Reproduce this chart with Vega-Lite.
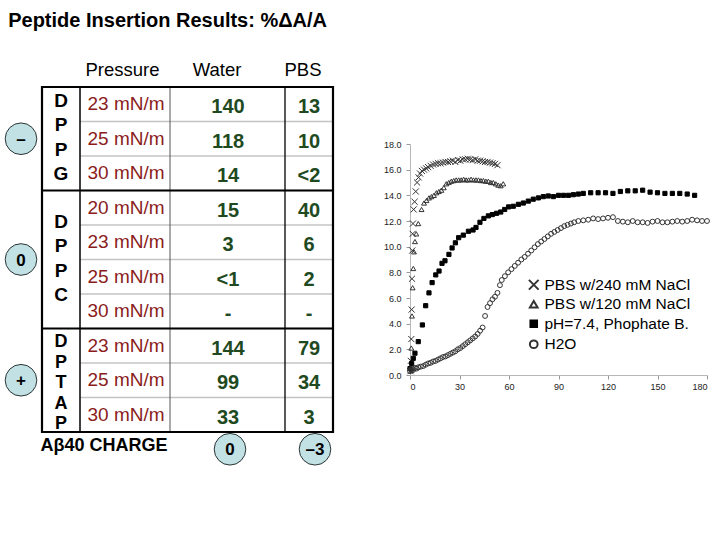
{
  "$schema": "https://vega.github.io/schema/vega-lite/v6.json",
  "background": "white",
  "padding": {"left": 3, "top": 10, "right": 0, "bottom": 0},
  "title": {"text": "Peptide Insertion Results: %ΔA/A", "anchor": "start", "font": "Liberation Sans", "fontSize": 20, "fontWeight": "bold", "color": "#000", "dx": 5, "offset": 30},
  "config": {"font": "Liberation Sans"},
  "bounds": "flush",
  "center": true,
  "spacing": 77,
  "datasets": {
    "rows": [
      {"row": "1", "group": "DPPG", "pressure": "23 mN/m", "water": "140", "pbs": "13"},
      {"row": "2", "group": "DPPG", "pressure": "25 mN/m", "water": "118", "pbs": "10"},
      {"row": "3", "group": "DPPG", "pressure": "30 mN/m", "water": "14", "pbs": "<2"},
      {"row": "4", "group": "DPPC", "pressure": "20 mN/m", "water": "15", "pbs": "40"},
      {"row": "5", "group": "DPPC", "pressure": "23 mN/m", "water": "3", "pbs": "6"},
      {"row": "6", "group": "DPPC", "pressure": "25 mN/m", "water": "<1", "pbs": "2"},
      {"row": "7", "group": "DPPC", "pressure": "30 mN/m", "water": "-", "pbs": "-"},
      {"row": "8", "group": "DPTAP", "pressure": "23 mN/m", "water": "144", "pbs": "79"},
      {"row": "9", "group": "DPTAP", "pressure": "25 mN/m", "water": "99", "pbs": "34"},
      {"row": "10", "group": "DPTAP", "pressure": "30 mN/m", "water": "33", "pbs": "3"}
    ],
    "groups": [
      {"group": "DPPG", "letters": "D\nP\nP\nG", "charge": "–", "first": "1"},
      {"group": "DPPC", "letters": "D\nP\nP\nC", "charge": "0", "first": "4"},
      {"group": "DPTAP", "letters": "D\nP\nT\nA\nP", "charge": "+", "first": "8"}
    ],
    "headers": [{"pressure": "Pressure", "water": "Water", "pbs": "PBS"}],
    "charge": [{"label": "Aβ40 CHARGE", "water": "0", "pbs": "–3"}],
    "curves": [
      {"series": "PBS w/240 mM NaCl", "t": 0.3, "pct": 0.3},
      {"series": "PBS w/240 mM NaCl", "t": 0.5, "pct": 1.1},
      {"series": "PBS w/240 mM NaCl", "t": 0.8, "pct": 2.8},
      {"series": "PBS w/240 mM NaCl", "t": 1.0, "pct": 5.1},
      {"series": "PBS w/240 mM NaCl", "t": 1.2, "pct": 7.5},
      {"series": "PBS w/240 mM NaCl", "t": 1.4, "pct": 9.7},
      {"series": "PBS w/240 mM NaCl", "t": 1.6, "pct": 11.0},
      {"series": "PBS w/240 mM NaCl", "t": 1.8, "pct": 11.8},
      {"series": "PBS w/240 mM NaCl", "t": 2.2, "pct": 12.9},
      {"series": "PBS w/240 mM NaCl", "t": 2.8, "pct": 13.5},
      {"series": "PBS w/240 mM NaCl", "t": 3.5, "pct": 14.3},
      {"series": "PBS w/240 mM NaCl", "t": 4.3, "pct": 15.0},
      {"series": "PBS w/240 mM NaCl", "t": 5.2, "pct": 15.4},
      {"series": "PBS w/240 mM NaCl", "t": 6.1, "pct": 15.7},
      {"series": "PBS w/240 mM NaCl", "t": 7.2, "pct": 15.9},
      {"series": "PBS w/240 mM NaCl", "t": 8.5, "pct": 16.0},
      {"series": "PBS w/240 mM NaCl", "t": 9.8, "pct": 16.1},
      {"series": "PBS w/240 mM NaCl", "t": 11, "pct": 16.2},
      {"series": "PBS w/240 mM NaCl", "t": 12.5, "pct": 16.3},
      {"series": "PBS w/240 mM NaCl", "t": 14, "pct": 16.4},
      {"series": "PBS w/240 mM NaCl", "t": 15.5, "pct": 16.45},
      {"series": "PBS w/240 mM NaCl", "t": 17, "pct": 16.5},
      {"series": "PBS w/240 mM NaCl", "t": 18.5, "pct": 16.5},
      {"series": "PBS w/240 mM NaCl", "t": 20, "pct": 16.55},
      {"series": "PBS w/240 mM NaCl", "t": 21.5, "pct": 16.6},
      {"series": "PBS w/240 mM NaCl", "t": 23, "pct": 16.6},
      {"series": "PBS w/240 mM NaCl", "t": 24.5, "pct": 16.65},
      {"series": "PBS w/240 mM NaCl", "t": 26, "pct": 16.7},
      {"series": "PBS w/240 mM NaCl", "t": 27.5, "pct": 16.6},
      {"series": "PBS w/240 mM NaCl", "t": 29, "pct": 16.75},
      {"series": "PBS w/240 mM NaCl", "t": 30.5, "pct": 16.7},
      {"series": "PBS w/240 mM NaCl", "t": 32, "pct": 16.8},
      {"series": "PBS w/240 mM NaCl", "t": 33.5, "pct": 16.8},
      {"series": "PBS w/240 mM NaCl", "t": 35, "pct": 16.85},
      {"series": "PBS w/240 mM NaCl", "t": 36.5, "pct": 16.8},
      {"series": "PBS w/240 mM NaCl", "t": 38, "pct": 16.75},
      {"series": "PBS w/240 mM NaCl", "t": 39.5, "pct": 16.8},
      {"series": "PBS w/240 mM NaCl", "t": 41, "pct": 16.7},
      {"series": "PBS w/240 mM NaCl", "t": 42.5, "pct": 16.7},
      {"series": "PBS w/240 mM NaCl", "t": 44, "pct": 16.65},
      {"series": "PBS w/240 mM NaCl", "t": 45.5, "pct": 16.6},
      {"series": "PBS w/240 mM NaCl", "t": 47, "pct": 16.6},
      {"series": "PBS w/240 mM NaCl", "t": 48.5, "pct": 16.55},
      {"series": "PBS w/240 mM NaCl", "t": 50, "pct": 16.5},
      {"series": "PBS w/240 mM NaCl", "t": 51.5, "pct": 16.45},
      {"series": "PBS w/240 mM NaCl", "t": 53, "pct": 16.35},
      {"series": "PBS w/120 mM NaCl", "t": 0.8, "pct": 2.1},
      {"series": "PBS w/120 mM NaCl", "t": 1.2, "pct": 4.6},
      {"series": "PBS w/120 mM NaCl", "t": 1.6, "pct": 6.8},
      {"series": "PBS w/120 mM NaCl", "t": 2.0, "pct": 8.3},
      {"series": "PBS w/120 mM NaCl", "t": 2.4, "pct": 9.6},
      {"series": "PBS w/120 mM NaCl", "t": 3.0, "pct": 10.4},
      {"series": "PBS w/120 mM NaCl", "t": 3.8, "pct": 11.0},
      {"series": "PBS w/120 mM NaCl", "t": 5, "pct": 11.8},
      {"series": "PBS w/120 mM NaCl", "t": 7, "pct": 12.9},
      {"series": "PBS w/120 mM NaCl", "t": 8.5, "pct": 13.4},
      {"series": "PBS w/120 mM NaCl", "t": 10, "pct": 13.6},
      {"series": "PBS w/120 mM NaCl", "t": 11.5, "pct": 13.8},
      {"series": "PBS w/120 mM NaCl", "t": 13, "pct": 13.9},
      {"series": "PBS w/120 mM NaCl", "t": 14.5, "pct": 14.0},
      {"series": "PBS w/120 mM NaCl", "t": 16, "pct": 14.2},
      {"series": "PBS w/120 mM NaCl", "t": 17.5, "pct": 14.3},
      {"series": "PBS w/120 mM NaCl", "t": 19, "pct": 14.4},
      {"series": "PBS w/120 mM NaCl", "t": 20.5, "pct": 14.6},
      {"series": "PBS w/120 mM NaCl", "t": 22, "pct": 14.9},
      {"series": "PBS w/120 mM NaCl", "t": 23.5, "pct": 15.0},
      {"series": "PBS w/120 mM NaCl", "t": 25, "pct": 15.1},
      {"series": "PBS w/120 mM NaCl", "t": 26.5, "pct": 15.15},
      {"series": "PBS w/120 mM NaCl", "t": 28, "pct": 15.2},
      {"series": "PBS w/120 mM NaCl", "t": 29.5, "pct": 15.2},
      {"series": "PBS w/120 mM NaCl", "t": 31, "pct": 15.2},
      {"series": "PBS w/120 mM NaCl", "t": 32.5, "pct": 15.25},
      {"series": "PBS w/120 mM NaCl", "t": 34, "pct": 15.2},
      {"series": "PBS w/120 mM NaCl", "t": 35.5, "pct": 15.2},
      {"series": "PBS w/120 mM NaCl", "t": 37, "pct": 15.25},
      {"series": "PBS w/120 mM NaCl", "t": 38.5, "pct": 15.2},
      {"series": "PBS w/120 mM NaCl", "t": 40, "pct": 15.2},
      {"series": "PBS w/120 mM NaCl", "t": 41.5, "pct": 15.2},
      {"series": "PBS w/120 mM NaCl", "t": 43, "pct": 15.15},
      {"series": "PBS w/120 mM NaCl", "t": 44.5, "pct": 15.15},
      {"series": "PBS w/120 mM NaCl", "t": 46, "pct": 15.1},
      {"series": "PBS w/120 mM NaCl", "t": 47.5, "pct": 15.1},
      {"series": "PBS w/120 mM NaCl", "t": 49, "pct": 15.0},
      {"series": "PBS w/120 mM NaCl", "t": 50.5, "pct": 15.0},
      {"series": "PBS w/120 mM NaCl", "t": 52, "pct": 14.9},
      {"series": "PBS w/120 mM NaCl", "t": 53.5, "pct": 14.8},
      {"series": "PBS w/120 mM NaCl", "t": 55, "pct": 14.75},
      {"series": "PBS w/120 mM NaCl", "t": 56.5, "pct": 14.9},
      {"series": " pH=7.4, Phophate B.", "t": 0, "pct": 0.5},
      {"series": " pH=7.4, Phophate B.", "t": 1, "pct": 0.9},
      {"series": " pH=7.4, Phophate B.", "t": 2, "pct": 1.3},
      {"series": " pH=7.4, Phophate B.", "t": 3, "pct": 1.7},
      {"series": " pH=7.4, Phophate B.", "t": 5, "pct": 2.6},
      {"series": " pH=7.4, Phophate B.", "t": 7.5, "pct": 3.9},
      {"series": " pH=7.4, Phophate B.", "t": 9.5, "pct": 5.4},
      {"series": " pH=7.4, Phophate B.", "t": 11.5, "pct": 6.4},
      {"series": " pH=7.4, Phophate B.", "t": 13.4, "pct": 7.2},
      {"series": " pH=7.4, Phophate B.", "t": 15.6, "pct": 7.8},
      {"series": " pH=7.4, Phophate B.", "t": 17.6, "pct": 8.1},
      {"series": " pH=7.4, Phophate B.", "t": 19.4, "pct": 8.7},
      {"series": " pH=7.4, Phophate B.", "t": 21.2, "pct": 8.9},
      {"series": " pH=7.4, Phophate B.", "t": 23.6, "pct": 9.4},
      {"series": " pH=7.4, Phophate B.", "t": 25.5, "pct": 9.9},
      {"series": " pH=7.4, Phophate B.", "t": 27.5, "pct": 10.3},
      {"series": " pH=7.4, Phophate B.", "t": 29.5, "pct": 10.7},
      {"series": " pH=7.4, Phophate B.", "t": 32.3, "pct": 10.9},
      {"series": " pH=7.4, Phophate B.", "t": 35.4, "pct": 11.2},
      {"series": " pH=7.4, Phophate B.", "t": 38.2, "pct": 11.3},
      {"series": " pH=7.4, Phophate B.", "t": 40, "pct": 11.5},
      {"series": " pH=7.4, Phophate B.", "t": 42.4, "pct": 11.9},
      {"series": " pH=7.4, Phophate B.", "t": 44.8, "pct": 12.2},
      {"series": " pH=7.4, Phophate B.", "t": 47.5, "pct": 12.4},
      {"series": " pH=7.4, Phophate B.", "t": 49.9, "pct": 12.5},
      {"series": " pH=7.4, Phophate B.", "t": 52.5, "pct": 12.6},
      {"series": " pH=7.4, Phophate B.", "t": 55, "pct": 12.7},
      {"series": " pH=7.4, Phophate B.", "t": 57.4, "pct": 12.9},
      {"series": " pH=7.4, Phophate B.", "t": 59.8, "pct": 13.1},
      {"series": " pH=7.4, Phophate B.", "t": 62.6, "pct": 13.15},
      {"series": " pH=7.4, Phophate B.", "t": 65.7, "pct": 13.3},
      {"series": " pH=7.4, Phophate B.", "t": 68.7, "pct": 13.4},
      {"series": " pH=7.4, Phophate B.", "t": 71.7, "pct": 13.55},
      {"series": " pH=7.4, Phophate B.", "t": 74.7, "pct": 13.7},
      {"series": " pH=7.4, Phophate B.", "t": 77.8, "pct": 13.8},
      {"series": " pH=7.4, Phophate B.", "t": 80.8, "pct": 13.9},
      {"series": " pH=7.4, Phophate B.", "t": 83.8, "pct": 13.95},
      {"series": " pH=7.4, Phophate B.", "t": 86.9, "pct": 13.9},
      {"series": " pH=7.4, Phophate B.", "t": 90, "pct": 14.0},
      {"series": " pH=7.4, Phophate B.", "t": 93, "pct": 14.0},
      {"series": " pH=7.4, Phophate B.", "t": 96, "pct": 14.0},
      {"series": " pH=7.4, Phophate B.", "t": 99, "pct": 14.05},
      {"series": " pH=7.4, Phophate B.", "t": 102, "pct": 14.1},
      {"series": " pH=7.4, Phophate B.", "t": 105, "pct": 14.15},
      {"series": " pH=7.4, Phophate B.", "t": 109.5, "pct": 14.2},
      {"series": " pH=7.4, Phophate B.", "t": 114, "pct": 14.2},
      {"series": " pH=7.4, Phophate B.", "t": 118.5, "pct": 14.2},
      {"series": " pH=7.4, Phophate B.", "t": 123, "pct": 14.15},
      {"series": " pH=7.4, Phophate B.", "t": 127.5, "pct": 14.3},
      {"series": " pH=7.4, Phophate B.", "t": 132, "pct": 14.35},
      {"series": " pH=7.4, Phophate B.", "t": 136.5, "pct": 14.35},
      {"series": " pH=7.4, Phophate B.", "t": 141, "pct": 14.4},
      {"series": " pH=7.4, Phophate B.", "t": 145.5, "pct": 14.25},
      {"series": " pH=7.4, Phophate B.", "t": 150, "pct": 14.2},
      {"series": " pH=7.4, Phophate B.", "t": 154.5, "pct": 14.15},
      {"series": " pH=7.4, Phophate B.", "t": 159, "pct": 14.15},
      {"series": " pH=7.4, Phophate B.", "t": 163.5, "pct": 14.15},
      {"series": " pH=7.4, Phophate B.", "t": 168, "pct": 14.1},
      {"series": " pH=7.4, Phophate B.", "t": 172.5, "pct": 14.0},
      {"series": "H2O", "t": 0, "pct": 0.3},
      {"series": "H2O", "t": 0.5, "pct": 0.45},
      {"series": "H2O", "t": 1, "pct": 0.35},
      {"series": "H2O", "t": 1.5, "pct": 0.5},
      {"series": "H2O", "t": 2, "pct": 0.4},
      {"series": "H2O", "t": 3, "pct": 0.55},
      {"series": "H2O", "t": 4, "pct": 0.5},
      {"series": "H2O", "t": 5, "pct": 0.6},
      {"series": "H2O", "t": 6.5, "pct": 0.65},
      {"series": "H2O", "t": 8, "pct": 0.7},
      {"series": "H2O", "t": 9.5, "pct": 0.8},
      {"series": "H2O", "t": 11, "pct": 0.9},
      {"series": "H2O", "t": 12.5, "pct": 0.95},
      {"series": "H2O", "t": 14, "pct": 1.05},
      {"series": "H2O", "t": 15.5, "pct": 1.1},
      {"series": "H2O", "t": 17, "pct": 1.2},
      {"series": "H2O", "t": 18.5, "pct": 1.3},
      {"series": "H2O", "t": 20, "pct": 1.4},
      {"series": "H2O", "t": 21.5, "pct": 1.45},
      {"series": "H2O", "t": 23, "pct": 1.55},
      {"series": "H2O", "t": 24.5, "pct": 1.65},
      {"series": "H2O", "t": 26, "pct": 1.75},
      {"series": "H2O", "t": 27.5, "pct": 1.85},
      {"series": "H2O", "t": 29, "pct": 2.0},
      {"series": "H2O", "t": 30.5, "pct": 2.1},
      {"series": "H2O", "t": 32, "pct": 2.25},
      {"series": "H2O", "t": 33.5, "pct": 2.4},
      {"series": "H2O", "t": 35, "pct": 2.55},
      {"series": "H2O", "t": 36.5, "pct": 2.7},
      {"series": "H2O", "t": 38, "pct": 2.85},
      {"series": "H2O", "t": 39.5, "pct": 3.0},
      {"series": "H2O", "t": 41, "pct": 3.2},
      {"series": "H2O", "t": 42.5, "pct": 3.45},
      {"series": "H2O", "t": 44, "pct": 3.7},
      {"series": "H2O", "t": 45.5, "pct": 4.6},
      {"series": "H2O", "t": 47, "pct": 5.3},
      {"series": "H2O", "t": 48.5, "pct": 5.6},
      {"series": "H2O", "t": 50, "pct": 5.9},
      {"series": "H2O", "t": 51.5, "pct": 6.1},
      {"series": "H2O", "t": 53, "pct": 6.4},
      {"series": "H2O", "t": 54.5, "pct": 7.0},
      {"series": "H2O", "t": 55.6, "pct": 7.4},
      {"series": "H2O", "t": 57.5, "pct": 7.7},
      {"series": "H2O", "t": 59.5, "pct": 8.0},
      {"series": "H2O", "t": 61.5, "pct": 8.25},
      {"series": "H2O", "t": 63.5, "pct": 8.5},
      {"series": "H2O", "t": 65.5, "pct": 8.75},
      {"series": "H2O", "t": 67.5, "pct": 9.0},
      {"series": "H2O", "t": 69.5, "pct": 9.2},
      {"series": "H2O", "t": 71.5, "pct": 9.45},
      {"series": "H2O", "t": 73.5, "pct": 9.7},
      {"series": "H2O", "t": 75.5, "pct": 9.95},
      {"series": "H2O", "t": 77.5, "pct": 10.2},
      {"series": "H2O", "t": 79.5, "pct": 10.4},
      {"series": "H2O", "t": 81.5, "pct": 10.6},
      {"series": "H2O", "t": 83.5, "pct": 10.8},
      {"series": "H2O", "t": 85.5, "pct": 11.0},
      {"series": "H2O", "t": 87.5, "pct": 11.15},
      {"series": "H2O", "t": 89.5, "pct": 11.3},
      {"series": "H2O", "t": 91.5, "pct": 11.45},
      {"series": "H2O", "t": 93.5, "pct": 11.6},
      {"series": "H2O", "t": 95.5, "pct": 11.7},
      {"series": "H2O", "t": 97.5, "pct": 11.8},
      {"series": "H2O", "t": 99.5, "pct": 11.9},
      {"series": "H2O", "t": 102, "pct": 12.0},
      {"series": "H2O", "t": 105, "pct": 12.05},
      {"series": "H2O", "t": 108, "pct": 12.1},
      {"series": "H2O", "t": 111, "pct": 12.2},
      {"series": "H2O", "t": 114, "pct": 12.15},
      {"series": "H2O", "t": 117, "pct": 12.2},
      {"series": "H2O", "t": 120, "pct": 12.25},
      {"series": "H2O", "t": 123, "pct": 12.3},
      {"series": "H2O", "t": 126, "pct": 12.0},
      {"series": "H2O", "t": 129, "pct": 11.95},
      {"series": "H2O", "t": 132, "pct": 11.9},
      {"series": "H2O", "t": 135, "pct": 12.0},
      {"series": "H2O", "t": 138, "pct": 11.9},
      {"series": "H2O", "t": 141, "pct": 11.9},
      {"series": "H2O", "t": 144, "pct": 11.85},
      {"series": "H2O", "t": 147, "pct": 11.95},
      {"series": "H2O", "t": 150, "pct": 12.0},
      {"series": "H2O", "t": 153, "pct": 11.9},
      {"series": "H2O", "t": 156, "pct": 11.9},
      {"series": "H2O", "t": 159, "pct": 11.95},
      {"series": "H2O", "t": 162, "pct": 12.0},
      {"series": "H2O", "t": 165, "pct": 11.95},
      {"series": "H2O", "t": 168, "pct": 12.0},
      {"series": "H2O", "t": 171, "pct": 12.1},
      {"series": "H2O", "t": 174, "pct": 12.05},
      {"series": "H2O", "t": 177, "pct": 12.0},
      {"series": "H2O", "t": 180, "pct": 12.0}
    ]
  },
  "hconcat": [
    {
      "width": 291,
      "height": 345,
      "view": {"stroke": null},
      "layer": [
        {
          "layer": [
            {
              "data": {"name": "rows"},
              "mark": {"type": "rule", "color": "#c4c4c4", "strokeWidth": 1.5},
              "encoding": {
                "y": {"field": "row", "type": "ordinal", "bandPosition": 0, "axis": null, "scale": {"type": "band", "domain": ["hdr", "1", "2", "3", "4", "5", "6", "7", "8", "9", "10", "chg"], "range": [-34.5, 379.5], "paddingInner": 0, "paddingOuter": 0}},
                "x": {"datum": 38, "type": "quantitative", "axis": null, "scale": {"domain": [0, 291]}},
                "x2": {"datum": 291}
              }
            },
            {
              "data": {"name": "headers"},
              "mark": {"type": "rule", "color": "#000", "strokeWidth": 1.5},
              "encoding": {"x": {"datum": 38, "type": "quantitative", "axis": null, "scale": {"domain": [0, 291]}}}
            },
            {
              "data": {"name": "headers"},
              "mark": {"type": "rule", "color": "#555", "strokeWidth": 1},
              "encoding": {"x": {"datum": 128, "type": "quantitative", "axis": null, "scale": {"domain": [0, 291]}}}
            },
            {
              "data": {"name": "headers"},
              "mark": {"type": "rule", "color": "#000", "strokeWidth": 1.3},
              "encoding": {"x": {"datum": 243, "type": "quantitative", "axis": null, "scale": {"domain": [0, 291]}}}
            },
            {
              "data": {"name": "groups"},
              "mark": {"type": "rule", "color": "#000", "strokeWidth": 2.2},
              "encoding": {
                "y": {"field": "first", "type": "ordinal", "bandPosition": 0, "axis": null, "scale": {"type": "band", "domain": ["hdr", "1", "2", "3", "4", "5", "6", "7", "8", "9", "10", "chg"], "range": [-34.5, 379.5], "paddingInner": 0, "paddingOuter": 0}},
                "x": {"datum": 0, "type": "quantitative", "axis": null, "scale": {"domain": [0, 291]}},
                "x2": {"datum": 291}
              }
            },
            {
              "data": {"name": "rows"},
              "mark": {"type": "text", "font": "Liberation Sans", "fontSize": 19, "color": "#8b1c1c", "align": "center", "baseline": "middle"},
              "encoding": {
                "y": {"field": "row", "type": "ordinal", "bandPosition": 0.5, "axis": null, "scale": {"type": "band", "domain": ["hdr", "1", "2", "3", "4", "5", "6", "7", "8", "9", "10", "chg"], "range": [-34.5, 379.5], "paddingInner": 0, "paddingOuter": 0}},
                "x": {"datum": 84, "type": "quantitative", "axis": null, "scale": {"domain": [0, 291]}},
                "text": {"field": "pressure"}
              }
            },
            {
              "data": {"name": "rows"},
              "mark": {"type": "text", "font": "Liberation Sans", "fontSize": 20, "fontWeight": "bold", "color": "#1f4a1f", "align": "center", "baseline": "middle", "dy": 3},
              "encoding": {
                "y": {"field": "row", "type": "ordinal", "bandPosition": 0.5, "axis": null, "scale": {"type": "band", "domain": ["hdr", "1", "2", "3", "4", "5", "6", "7", "8", "9", "10", "chg"], "range": [-34.5, 379.5], "paddingInner": 0, "paddingOuter": 0}},
                "x": {"datum": 186, "type": "quantitative", "axis": null, "scale": {"domain": [0, 291]}},
                "text": {"field": "water"}
              }
            },
            {
              "data": {"name": "rows"},
              "mark": {"type": "text", "font": "Liberation Sans", "fontSize": 20, "fontWeight": "bold", "color": "#1f4a1f", "align": "center", "baseline": "middle", "dy": 3},
              "encoding": {
                "y": {"field": "row", "type": "ordinal", "bandPosition": 0.5, "axis": null, "scale": {"type": "band", "domain": ["hdr", "1", "2", "3", "4", "5", "6", "7", "8", "9", "10", "chg"], "range": [-34.5, 379.5], "paddingInner": 0, "paddingOuter": 0}},
                "x": {"datum": 267, "type": "quantitative", "axis": null, "scale": {"domain": [0, 291]}},
                "text": {"field": "pbs"}
              }
            },
            {
              "data": {"name": "headers"},
              "mark": {"type": "text", "font": "Liberation Sans", "fontSize": 18.5, "color": "#000", "align": "center", "baseline": "middle"},
              "encoding": {
                "y": {"datum": "hdr", "type": "ordinal", "bandPosition": 0.5, "axis": null, "scale": {"type": "band", "domain": ["hdr", "1", "2", "3", "4", "5", "6", "7", "8", "9", "10", "chg"], "range": [-34.5, 379.5], "paddingInner": 0, "paddingOuter": 0}},
                "x": {"datum": 80.5, "type": "quantitative", "axis": null, "scale": {"domain": [0, 291]}},
                "text": {"field": "pressure"}
              }
            },
            {
              "data": {"name": "headers"},
              "mark": {"type": "text", "font": "Liberation Sans", "fontSize": 18.5, "color": "#000", "align": "center", "baseline": "middle"},
              "encoding": {
                "y": {"datum": "hdr", "type": "ordinal", "bandPosition": 0.5, "axis": null, "scale": {"type": "band", "domain": ["hdr", "1", "2", "3", "4", "5", "6", "7", "8", "9", "10", "chg"], "range": [-34.5, 379.5], "paddingInner": 0, "paddingOuter": 0}},
                "x": {"datum": 175, "type": "quantitative", "axis": null, "scale": {"domain": [0, 291]}},
                "text": {"field": "water"}
              }
            },
            {
              "data": {"name": "headers"},
              "mark": {"type": "text", "font": "Liberation Sans", "fontSize": 18.5, "color": "#000", "align": "center", "baseline": "middle"},
              "encoding": {
                "y": {"datum": "hdr", "type": "ordinal", "bandPosition": 0.5, "axis": null, "scale": {"type": "band", "domain": ["hdr", "1", "2", "3", "4", "5", "6", "7", "8", "9", "10", "chg"], "range": [-34.5, 379.5], "paddingInner": 0, "paddingOuter": 0}},
                "x": {"datum": 261, "type": "quantitative", "axis": null, "scale": {"domain": [0, 291]}},
                "text": {"field": "pbs"}
              }
            },
            {
              "data": {"name": "charge"},
              "mark": {"type": "text", "font": "Liberation Sans", "fontSize": 18, "fontWeight": "bold", "color": "#000", "align": "center", "baseline": "middle", "dy": -3},
              "encoding": {
                "y": {"datum": "chg", "type": "ordinal", "bandPosition": 0.5, "axis": null, "scale": {"type": "band", "domain": ["hdr", "1", "2", "3", "4", "5", "6", "7", "8", "9", "10", "chg"], "range": [-34.5, 379.5], "paddingInner": 0, "paddingOuter": 0}},
                "x": {"datum": 62, "type": "quantitative", "axis": null, "scale": {"domain": [0, 291]}},
                "text": {"field": "label"}
              }
            },
            {
              "data": {"name": "charge"},
              "mark": {"type": "point", "shape": "circle", "filled": true, "size": 1000, "fill": "#c2e1e5", "stroke": "#2b3535", "strokeWidth": 1, "opacity": 1},
              "encoding": {
                "y": {"datum": "chg", "type": "ordinal", "bandPosition": 0.5, "axis": null, "scale": {"type": "band", "domain": ["hdr", "1", "2", "3", "4", "5", "6", "7", "8", "9", "10", "chg"], "range": [-34.5, 379.5], "paddingInner": 0, "paddingOuter": 0}},
                "x": {"datum": 188, "type": "quantitative", "axis": null, "scale": {"domain": [0, 291]}}
              }
            },
            {
              "data": {"name": "charge"},
              "mark": {"type": "point", "shape": "circle", "filled": true, "size": 1000, "fill": "#c2e1e5", "stroke": "#2b3535", "strokeWidth": 1, "opacity": 1},
              "encoding": {
                "y": {"datum": "chg", "type": "ordinal", "bandPosition": 0.5, "axis": null, "scale": {"type": "band", "domain": ["hdr", "1", "2", "3", "4", "5", "6", "7", "8", "9", "10", "chg"], "range": [-34.5, 379.5], "paddingInner": 0, "paddingOuter": 0}},
                "x": {"datum": 273, "type": "quantitative", "axis": null, "scale": {"domain": [0, 291]}}
              }
            },
            {
              "data": {"name": "charge"},
              "mark": {"type": "text", "font": "Liberation Sans", "fontSize": 17, "fontWeight": "bold", "color": "#000", "align": "center", "baseline": "middle", "dy": 1},
              "encoding": {
                "y": {"datum": "chg", "type": "ordinal", "bandPosition": 0.5, "axis": null, "scale": {"type": "band", "domain": ["hdr", "1", "2", "3", "4", "5", "6", "7", "8", "9", "10", "chg"], "range": [-34.5, 379.5], "paddingInner": 0, "paddingOuter": 0}},
                "x": {"datum": 188, "type": "quantitative", "axis": null, "scale": {"domain": [0, 291]}},
                "text": {"field": "water"}
              }
            },
            {
              "data": {"name": "charge"},
              "mark": {"type": "text", "font": "Liberation Sans", "fontSize": 17, "fontWeight": "bold", "color": "#000", "align": "center", "baseline": "middle", "dy": 1},
              "encoding": {
                "y": {"datum": "chg", "type": "ordinal", "bandPosition": 0.5, "axis": null, "scale": {"type": "band", "domain": ["hdr", "1", "2", "3", "4", "5", "6", "7", "8", "9", "10", "chg"], "range": [-34.5, 379.5], "paddingInner": 0, "paddingOuter": 0}},
                "x": {"datum": 273, "type": "quantitative", "axis": null, "scale": {"domain": [0, 291]}},
                "text": {"field": "pbs"}
              }
            },
            {
              "data": {"name": "headers"},
              "mark": {"type": "rect", "fill": "transparent", "stroke": "#000", "strokeWidth": 2.2},
              "encoding": {
                "x": {"datum": 0, "type": "quantitative", "axis": null, "scale": {"domain": [0, 291]}},
                "x2": {"datum": 291}
              }
            }
          ]
        },
        {
          "data": {"name": "groups"},
          "encoding": {
            "y": {"field": "group", "type": "nominal", "axis": null, "scale": {"type": "band", "domain": ["DPPG", "DPPC", "DPTAP"], "range": [-8.625, 353.625], "paddingInner": 0, "paddingOuter": 0}}
          },
          "layer": [
            {
              "mark": {"type": "point", "shape": "circle", "filled": true, "size": 1000, "fill": "#c2e1e5", "stroke": "#2b3535", "strokeWidth": 1, "opacity": 1},
              "encoding": {"x": {"datum": -21, "type": "quantitative", "axis": null, "scale": {"domain": [0, 291]}}}
            },
            {
              "mark": {"type": "text", "font": "Liberation Sans", "fontSize": 17, "fontWeight": "bold", "color": "#000", "align": "center", "baseline": "middle", "dy": 1},
              "encoding": {
                "x": {"datum": -21, "type": "quantitative", "axis": null, "scale": {"domain": [0, 291]}},
                "text": {"field": "charge"}
              }
            },
            {
              "transform": [{"filter": "datum.group != 'DPTAP'"}],
              "mark": {"type": "text", "font": "Liberation Sans", "fontSize": 19, "fontWeight": "bold", "color": "#000", "align": "center", "baseline": "middle", "lineBreak": "\n", "lineHeight": 24.5, "dy": -38},
              "encoding": {
                "x": {"datum": 19, "type": "quantitative", "axis": null, "scale": {"domain": [0, 291]}},
                "text": {"field": "letters"}
              }
            },
            {
              "transform": [{"filter": "datum.group == 'DPTAP'"}],
              "mark": {"type": "text", "font": "Liberation Sans", "fontSize": 18, "fontWeight": "bold", "color": "#000", "align": "center", "baseline": "middle", "lineBreak": "\n", "lineHeight": 20.5, "dy": -38},
              "encoding": {
                "x": {"datum": 19, "type": "quantitative", "axis": null, "scale": {"domain": [0, 291]}},
                "text": {"field": "letters"}
              }
            }
          ]
        }
      ],
      "resolve": {"scale": {"y": "independent"}}
    },
    {
      "width": 297,
      "height": 231,
      "view": {"stroke": null},
      "data": {"name": "curves"},
      "mark": {"type": "point", "size": 24, "strokeWidth": 1, "opacity": 1},
      "encoding": {
        "x": {"field": "t", "type": "quantitative", "scale": {"domain": [0, 180], "nice": false}, "axis": {"values": [0, 30, 60, 90, 120, 150, 180], "title": null, "grid": false, "labelFont": "Liberation Sans", "labelFontSize": 9, "labelColor": "#222", "domainColor": "#b8b8b8", "tickColor": "#999", "tickSize": 4, "labelPadding": 3}},
        "y": {"field": "pct", "type": "quantitative", "scale": {"domain": [0, 18], "nice": false}, "axis": {"values": [0, 2, 4, 6, 8, 10, 12, 14, 16, 18], "format": ".1f", "title": null, "grid": false, "labelFont": "Liberation Sans", "labelFontSize": 9, "labelColor": "#222", "domainColor": "#b8b8b8", "tickColor": "#999", "tickSize": 4, "labelPadding": 5}},
        "shape": {"field": "series", "type": "nominal", "scale": {"domain": ["PBS w/240 mM NaCl", "PBS w/120 mM NaCl", " pH=7.4, Phophate B.", "H2O"], "range": ["M-1.25,-1.25L1.25,1.25M-1.25,1.25L1.25,-1.25", "triangle-up", "M-0.85,-0.85H0.85V0.85H-0.85Z", "circle"]}, "legend": {"orient": "none", "legendX": 484, "legendY": 190, "title": null, "labelFont": "Liberation Sans", "labelFontSize": 15.5, "labelColor": "#000", "symbolSize": 60, "symbolStrokeWidth": 2, "rowPadding": 2.5, "padding": 0, "labelOffset": 3}},
        "fill": {"field": "series", "type": "nominal", "scale": {"domain": ["PBS w/240 mM NaCl", "PBS w/120 mM NaCl", " pH=7.4, Phophate B.", "H2O"], "range": ["transparent", "transparent", "#000", "transparent"]}},
        "stroke": {"field": "series", "type": "nominal", "scale": {"domain": ["PBS w/240 mM NaCl", "PBS w/120 mM NaCl", " pH=7.4, Phophate B.", "H2O"], "range": ["#333", "#333", "#000", "#333"]}}
      }
    }
  ]
}
